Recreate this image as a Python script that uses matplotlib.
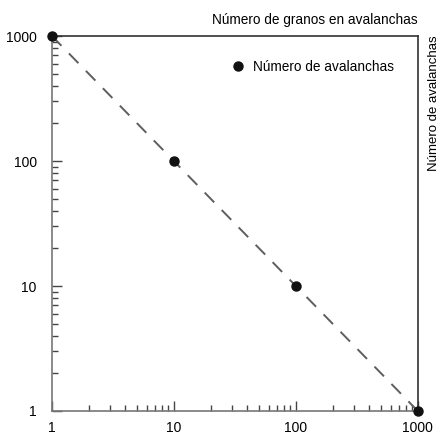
import matplotlib.pyplot as plt
from matplotlib.ticker import LogLocator, NullFormatter, FixedLocator

plt.rcParams['font.family'] = ['Liberation Sans Narrow', 'Liberation Sans', 'DejaVu Sans']

# Tamaño de avalancha (granos) y número de avalanchas
granos = [1, 10, 100, 1000]
avalanchas = [1000, 100, 10, 1]
ticks = [1, 10, 100, 1000]
etiquetas = ['1', '10', '100', '1000']

fig = plt.figure(figsize=(4.44, 4.37), dpi=100)
ax = fig.add_axes([0.117, 0.0595, 0.824, 0.858])

ax.plot(granos, avalanchas, linestyle=(0, (7, 5.5)), color='#5e5e5e', lw=1.4, zorder=2)
ax.plot(granos, avalanchas, 'o', color='#111111', ms=6.5, clip_on=False, zorder=3,
        label='Número de avalanchas')

ax.set_xscale('log')
ax.set_yscale('log')
ax.set_xlim(1, 1000)
ax.set_ylim(1, 1000)

ax.xaxis.set_major_locator(FixedLocator(ticks))
ax.yaxis.set_major_locator(FixedLocator(ticks))
ax.set_xticklabels(etiquetas)
ax.set_yticklabels(etiquetas)
ax.xaxis.set_minor_locator(LogLocator(base=10, subs=range(2, 10)))
ax.yaxis.set_minor_locator(LogLocator(base=10, subs=range(2, 10)))
ax.xaxis.set_minor_formatter(NullFormatter())
ax.yaxis.set_minor_formatter(NullFormatter())

ax.tick_params(which='both', direction='in', color='#444444', labelsize=10, width=1,
               right=False, top=False)
ax.tick_params(which='major', length=7)
ax.tick_params(which='minor', length=4)
ax.tick_params(axis='x', which='major', pad=7)
ax.tick_params(axis='y', which='major', pad=11)

for s in ax.spines.values():
    s.set_color('#333333')
    s.set_linewidth(1.2)
ax.spines['left'].set_color('#777777')
ax.spines['bottom'].set_color('#777777')

fig.text(0.941, 0.955, 'Número de granos en avalanchas', ha='right', va='center', fontsize=9.8)
fig.text(0.978, 0.92, 'Número de avalanchas', ha='center', va='top', rotation=90, fontsize=9.5)

ax.legend(loc='upper right', frameon=False, fontsize=9.8, handletextpad=0.1,
          bbox_to_anchor=(0.968, 0.97))

fig.savefig('out.png', dpi=100)
